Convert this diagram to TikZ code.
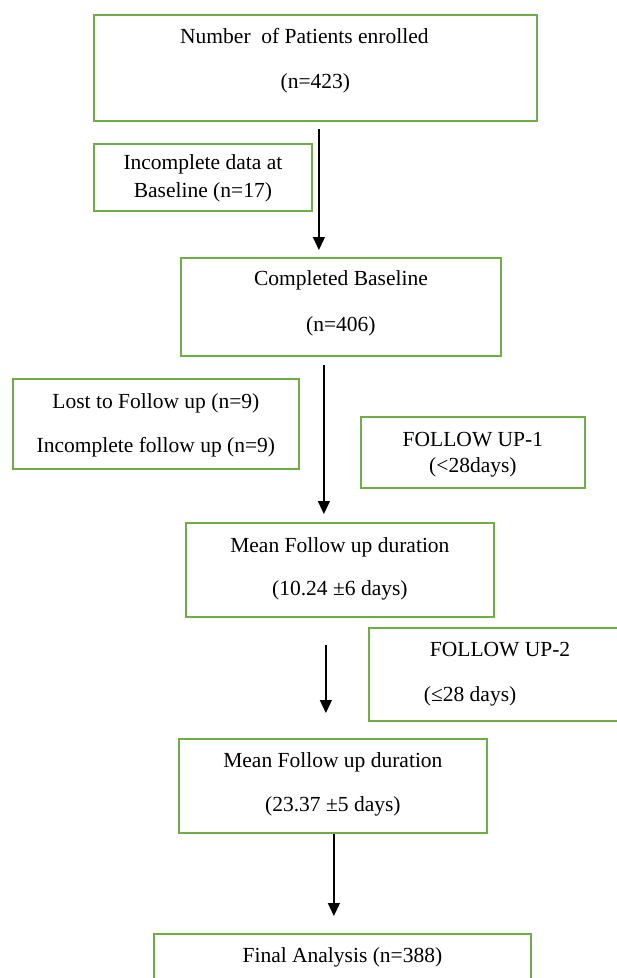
\documentclass[tikz,border=0pt]{standalone}
\usepackage{fontspec}
\setmainfont{Liberation Serif}
\usetikzlibrary{arrows.meta}
\definecolor{boxgreen}{RGB}{112,173,71}
\tikzset{
  box/.style={draw=boxgreen,line width=1.8pt,rectangle,anchor=north west,
    inner ysep=0pt,align=center,font=\fontsize{21.5}{27}\selectfont},
  arr/.style={line width=1.3pt,-{Triangle[width=12pt,length=13pt]}}
}
\begin{document}
\begin{tikzpicture}[x=1pt,y=-1pt]
    \useasboundingbox (0,0) rectangle (617,978);
    \clip (0,0) rectangle (617,978);
    % enrolment
    \node[box,minimum width=443pt,text height=74pt,text depth=32pt] (enrol) at (93,14)
         {Number~~of Patients enrolled\hspace*{22pt}\\[18pt](n=423)};
    \node[box,minimum width=218pt,text height=54pt,text depth=13pt] (incomp) at (93,143)
         {Incomplete data at\\[1pt]Baseline (n=17)};
    % baseline
    \node[box,minimum width=320pt,text height=74pt,text depth=24pt] (base) at (180,257)
         {Completed Baseline\\[19pt](n=406)};
    \node[box,minimum width=286pt,text height=74pt,text depth=16pt] (lost) at (12,378)
         {Lost to Follow up (n=9)\\[17pt]Incomplete follow up (n=9)};
    \node[box,minimum width=224pt,text height=56pt,text depth=15pt] (fuone) at (360,416)
         {FOLLOW UP-1\\[-1pt](<28days)};
    % follow up 1
    \node[box,minimum width=308pt,text height=73pt,text depth=21pt] (meanone) at (185,522)
         {Mean Follow up duration\\[16pt](10.24 ±6 days)};
    \node[box,align=flush left,text width=200pt,inner xsep=61pt,text height=29pt,text depth=64pt] (futwo) at (368,627)
         {FOLLOW UP-2\\[18pt]\hspace*{-6pt}(≤28 days)};
    % follow up 2
    \node[box,minimum width=308pt,text height=73pt,text depth=21pt] (meantwo) at (178,738)
         {Mean Follow up duration\\[17pt](23.37 ±5 days)};
    % final
    \node[box,minimum width=377pt,text height=29pt,text depth=40pt] (final) at (153,933)
         {Final Analysis (n=388)};
    % arrows
    \draw[arr,shorten <=7pt,shorten >=7pt] ([xshift=3.5pt]enrol.south) -- ([xshift=3.5pt]enrol.south |- base.north);
    \draw[arr,shorten <=8pt,shorten >=8pt] ([xshift=-17pt]base.south) -- ([xshift=-17pt]base.south |- meanone.north);
    \draw[arr,shorten <=27pt,shorten >=25pt] ([xshift=-14pt]meanone.south) -- ([xshift=-14pt]meanone.south |- meantwo.north);
    \draw[arr,shorten >=17pt] ([xshift=1pt]meantwo.south) -- ([xshift=1pt]meantwo.south |- final.north);
\end{tikzpicture}
\end{document}
